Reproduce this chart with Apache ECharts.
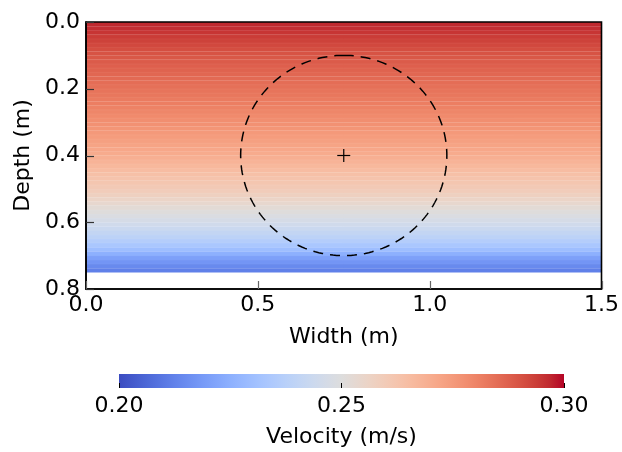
<!DOCTYPE html>
<html>
<head>
<meta charset="utf-8">
<script src="https://cdn.jsdelivr.net/npm/echarts@6/dist/echarts.min.js"></script>
<style>
  html, body { margin: 0; padding: 0; background: #fff; }
  #chart { width: 622px; height: 452px; }
</style>
</head>
<body>
<div id="chart"></div>
<script>
// Depth of each layer's centre (m) and its flow velocity (m/s)
const depthCenters = [
  0.00625, 0.01875, 0.03125, 0.04375, 0.05625, 0.06875, 0.08125, 0.09375, 0.10625, 0.11875,
  0.13125, 0.14375, 0.15625, 0.16875, 0.18125, 0.19375, 0.20625, 0.21875, 0.23125, 0.24375,
  0.25625, 0.26875, 0.28125, 0.29375, 0.30625, 0.31875, 0.33125, 0.34375, 0.35625, 0.36875,
  0.38125, 0.39375, 0.40625, 0.41875, 0.43125, 0.44375, 0.45625, 0.46875, 0.48125, 0.49375,
  0.50625, 0.51875, 0.53125, 0.54375, 0.55625, 0.56875, 0.58125, 0.59375, 0.60625, 0.61875,
  0.63125, 0.64375, 0.65625, 0.66875, 0.68125, 0.69375, 0.70625, 0.71875, 0.73125, 0.74375
];
const velocity = [
  0.2968, 0.2960, 0.2950, 0.2940, 0.2930, 0.2920, 0.2910, 0.2900, 0.2891, 0.2884,
  0.2876, 0.2869, 0.2862, 0.2856, 0.2850, 0.2843, 0.2836, 0.2829, 0.2821, 0.2814,
  0.2806, 0.2797, 0.2788, 0.2779, 0.2771, 0.2762, 0.2753, 0.2744, 0.2735, 0.2725,
  0.2715, 0.2705, 0.2693, 0.2680, 0.2666, 0.2652, 0.2640, 0.2628, 0.2617, 0.2605,
  0.2592, 0.2575, 0.2557, 0.2539, 0.2521, 0.2504, 0.2487, 0.2469, 0.2450, 0.2430,
  0.2409, 0.2387, 0.2362, 0.2333, 0.2298, 0.2250, 0.2205, 0.2175, 0.2145, 0.2120
];
const layerThickness = 0.0125;
const channelWidth = [0, 1.5];
const depthRange = [0, 0.8];

// Tick positions
const widthTicks = [0.0, 0.5, 1.0, 1.5];
const depthTicks = [0.0, 0.2, 0.4, 0.6, 0.8];

// Probe footprint: centre (width, depth) and radius, all in metres
const probeCenter = [0.75, 0.4];
const probeRadius = 0.3;

// Colour bar range
const velocityRange = [0.20, 0.30];

// matplotlib "coolwarm" control colours
const coolwarm = [
  '#3b4cc0', '#445acc', '#4d68d7', '#5775e1', '#6282ea', '#6c8ef1', '#779af7', '#82a5fb',
  '#8db0fe', '#98b9ff', '#a3c2ff', '#aec9fd', '#b8d0f9', '#c2d5f4', '#ccd9ee', '#d5dbe6',
  '#dddddd', '#e5d8d1', '#ecd3c5', '#f1ccb9', '#f5c4ad', '#f7bba0', '#f7b194', '#f7a687',
  '#f49a7b', '#f18d6f', '#ec7f63', '#e57058', '#de604d', '#d55042', '#cb3e38', '#c0282f',
  '#b40426'
];

const FONT = 'DejaVu Sans';
const FS = 22;
const TICK_LEN = 8;
const layers = depthCenters.map((d, i) => [d - layerThickness / 2, d + layerThickness / 2, velocity[i]]);

const chart = echarts.init(document.getElementById('chart'), null, { renderer: 'canvas' });

// Plot frame drawn from the axis scales
function renderFrame(params, api) {
  const tl = api.coord([channelWidth[0], depthRange[0]]);
  const br = api.coord([channelWidth[1], depthRange[1]]);
  return {
    type: 'rect',
    shape: { x: tl[0], y: tl[1], width: br[0] - tl[0], height: br[1] - tl[1] },
    style: { fill: null, stroke: '#000', lineWidth: 1.6 }
  };
}

const option = {
  backgroundColor: '#fff',
  animation: false,
  textStyle: { fontFamily: FONT },
  grid: [
    { left: 86, top: 22, width: 516, height: 267 },
    { left: 119, top: 374, width: 445, height: 14 }
  ],
  xAxis: [
    {
      gridIndex: 0, type: 'value', position: 'bottom', min: channelWidth[0], max: channelWidth[1],
      interval: 0.5, z: 10,
      name: 'Width (m)', nameLocation: 'middle', nameGap: 37,
      nameTextStyle: { fontSize: FS, color: '#000', fontFamily: FONT },
      axisLine: { show: true, onZero: false, lineStyle: { color: '#000', width: 1.6 } },
      axisTick: { show: false },
      axisLabel: { fontSize: FS, color: '#000', margin: 5, fontFamily: FONT,
                   formatter: v => v.toFixed(1) },
      splitLine: { show: false }
    },
    {
      gridIndex: 1, type: 'value', position: 'bottom', min: velocityRange[0], max: velocityRange[1],
      interval: 0.05, z: 10,
      name: 'Velocity (m/s)', nameLocation: 'middle', nameGap: 38,
      nameTextStyle: { fontSize: FS, color: '#000', fontFamily: FONT },
      axisLine: { show: false, onZero: false },
      axisTick: { show: true, inside: true, length: 5, lineStyle: { color: '#000', width: 1 } },
      axisLabel: { fontSize: FS, color: '#000', margin: 7, fontFamily: FONT,
                   formatter: v => v.toFixed(2) },
      splitLine: { show: false }
    }
  ],
  yAxis: [
    {
      gridIndex: 0, type: 'value', position: 'left', inverse: true, min: depthRange[0], max: depthRange[1],
      interval: 0.2, z: 10,
      name: 'Depth (m)', nameLocation: 'middle', nameGap: 52,
      nameTextStyle: { fontSize: FS, color: '#000', fontFamily: FONT },
      axisLine: { show: true, onZero: false, lineStyle: { color: '#000', width: 1.6 } },
      axisTick: { show: false },
      axisLabel: { fontSize: FS, color: '#000', margin: 6, fontFamily: FONT,
                   formatter: v => v.toFixed(1) },
      splitLine: { show: false }
    },
    {
      gridIndex: 1, type: 'value', min: 0, max: 1, show: false
    }
  ],
  visualMap: {
    show: false, type: 'continuous', seriesIndex: 0, dimension: 2,
    min: velocityRange[0], max: velocityRange[1], inRange: { color: coolwarm }
  },
  series: [
    {
      // velocity layers spanning the full channel width
      type: 'custom', xAxisIndex: 0, yAxisIndex: 0, z: 2,
      data: layers,
      renderItem: (params, api) => {
        const p0 = api.coord([channelWidth[0], api.value(0)]);
        const p1 = api.coord([channelWidth[1], api.value(1)]);
        return {
          type: 'group',
          children: [
            { type: 'rect',
              shape: { x: p0[0], y: p0[1], width: p1[0] - p0[0], height: p1[1] - p0[1] + 0.3 },
              style: { fill: api.visual('color') } },
            { type: 'line',
              shape: { x1: p0[0], y1: p0[1] + 0.25, x2: p1[0], y2: p0[1] + 0.25 },
              style: { stroke: 'rgba(255,255,255,0.10)', lineWidth: 0.5 } }
          ]
        };
      }
    },
    {
      // probe footprint (dashed circle) and its centre mark
      type: 'custom', xAxisIndex: 0, yAxisIndex: 0, z: 5,
      data: [[probeCenter[0], probeCenter[1], probeRadius]],
      renderItem: (params, api) => {
        const c = api.coord([api.value(0), api.value(1)]);
        const r = api.value(2);
        const rx = api.size([r, 0])[0];
        const ry = api.size([0, r])[1];
        const pts = [];
        const n = 180;
        for (let k = 0; k <= n; k++) {
          const a = -Math.PI / 2 + (2 * Math.PI * k) / n;
          pts.push([c[0] + rx * Math.cos(a), c[1] + ry * Math.sin(a)]);
        }
        const h = 6.5;
        return {
          type: 'group',
          children: [
            { type: 'polyline', shape: { points: pts },
              style: { fill: null, stroke: '#000', lineWidth: 1.5, lineDash: [10, 7] } },
            { type: 'line', shape: { x1: c[0] - h, y1: c[1], x2: c[0] + h, y2: c[1] },
              style: { stroke: '#000', lineWidth: 1.2 } },
            { type: 'line', shape: { x1: c[0], y1: c[1] - h, x2: c[0], y2: c[1] + h },
              style: { stroke: '#000', lineWidth: 1.2 } }
          ]
        };
      }
    },
    {
      // plot frame
      type: 'custom', xAxisIndex: 0, yAxisIndex: 0, z: 9,
      data: [[probeCenter[0], probeCenter[1]]],
      renderItem: renderFrame
    },
    {
      // colour bar
      type: 'custom', xAxisIndex: 1, yAxisIndex: 1, z: 2,
      data: [[velocityRange[0], velocityRange[1]]],
      renderItem: (params, api) => {
        const p0 = api.coord([api.value(0), 1]);
        const p1 = api.coord([api.value(1), 0]);
        const stops = coolwarm.map((c, i) => ({ offset: i / (coolwarm.length - 1), color: c }));
        return {
          type: 'rect',
          shape: { x: p0[0], y: p0[1], width: p1[0] - p0[0], height: p1[1] - p0[1] },
          style: { fill: new echarts.graphic.LinearGradient(0, 0, 1, 0, stops) }
        };
      }
    }
  ]
};

chart.setOption(option);

// Inward tick marks on the width and depth axes, placed through the axis scales
const tickGraphics = [];
widthTicks.forEach(w => {
  const p = chart.convertToPixel({ gridIndex: 0 }, [w, depthRange[1]]);
  const x = Math.round(p[0]) + 0.5;
  tickGraphics.push({
    type: 'line', z: 100,
    shape: { x1: x, y1: p[1], x2: x, y2: p[1] - TICK_LEN },
    style: { stroke: '#666', lineWidth: 1.2 }
  });
});
depthTicks.forEach(d => {
  const p = chart.convertToPixel({ gridIndex: 0 }, [channelWidth[0], d]);
  const y = Math.round(p[1]) + 0.5;
  tickGraphics.push({
    type: 'line', z: 100,
    shape: { x1: p[0], y1: y, x2: p[0] + TICK_LEN, y2: y },
    style: { stroke: '#333', lineWidth: 1.2 }
  });
});
chart.setOption({ graphic: { elements: tickGraphics } });
</script>
</body>
</html>
